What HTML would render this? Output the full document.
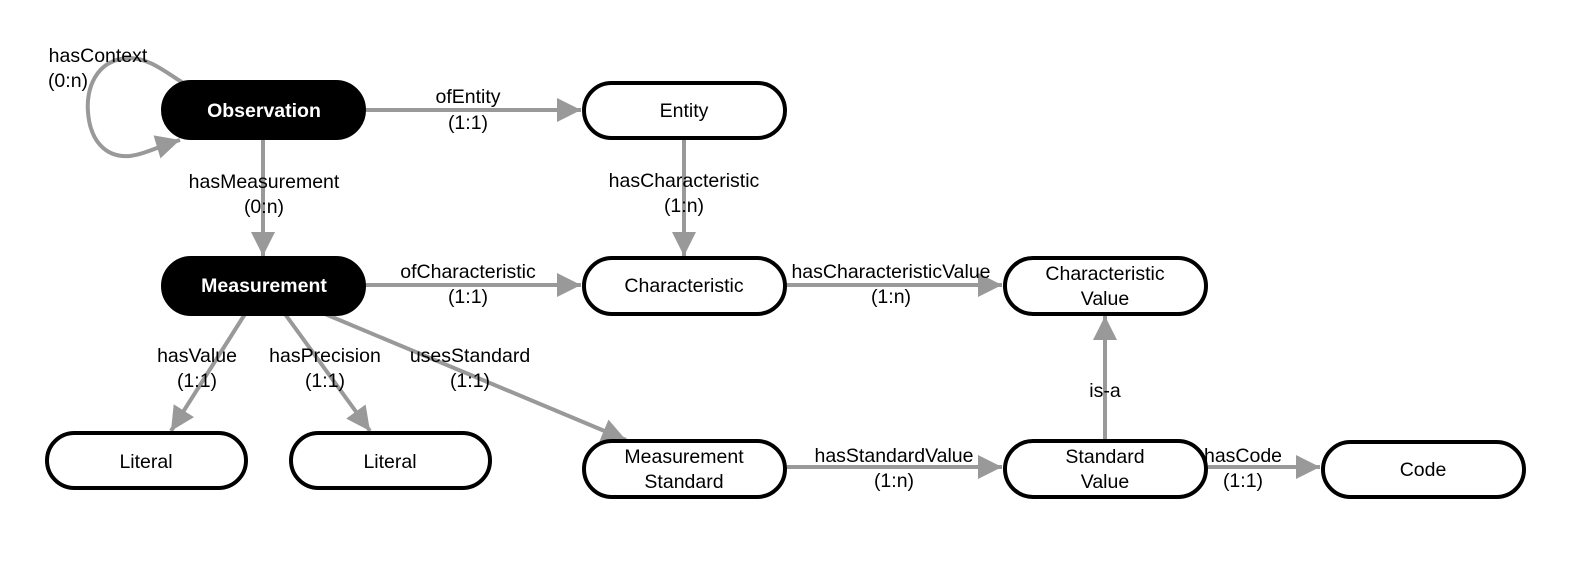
<!DOCTYPE html>
<html><head><meta charset="utf-8"><style>
html,body{margin:0;padding:0;background:#fff;}
svg text{font-family:"Liberation Sans",Arial,sans-serif;font-size:19.5px;text-anchor:middle;}
</style></head><body>
<svg width="1588" height="563" viewBox="0 0 1588 563" xmlns="http://www.w3.org/2000/svg">
<defs>
<marker id="a" viewBox="0 0 10 10" refX="10" refY="5" markerWidth="7" markerHeight="6" markerUnits="strokeWidth" orient="auto">
<path d="M0,0 L10,5 L0,10 z" fill="#999"/></marker>
</defs>
<g stroke="#999" stroke-width="4" fill="none" marker-end="url(#a)">
<path d="M185,84 C165,72 150,58 128,58 C95,60 86,90 88,112 C90,140 105,158 130,156 C145,154 160,146 180,140"/>
<line x1="366" y1="110" x2="581" y2="110"/>
<line x1="263" y1="138" x2="263" y2="256"/>
<line x1="684" y1="138" x2="684" y2="256"/>
<line x1="366" y1="285" x2="581" y2="285"/>
<line x1="787" y1="285" x2="1002" y2="285"/>
<line x1="245" y1="314" x2="171" y2="431"/>
<line x1="285" y1="314" x2="370" y2="431"/>
<line x1="325" y1="314" x2="626" y2="440"/>
<line x1="787" y1="467" x2="1002" y2="467"/>
<line x1="1105" y1="441" x2="1105" y2="316"/>
<line x1="1208" y1="467" x2="1320" y2="467"/>
</g>
<g stroke="#000" stroke-width="4">
<rect x="163" y="82" width="201" height="56" rx="28" fill="#000"/>
<rect x="163" y="258" width="201" height="56" rx="28" fill="#000"/>
<g fill="#fff">
<rect x="584" y="83" width="201" height="55" rx="27.5"/>
<rect x="584" y="258" width="201" height="56" rx="28"/>
<rect x="1005" y="258" width="201" height="56" rx="28"/>
<rect x="47" y="433" width="199" height="55" rx="27.5"/>
<rect x="291" y="433" width="199" height="55" rx="27.5"/>
<rect x="584" y="441" width="201" height="56" rx="28"/>
<rect x="1005" y="441" width="201" height="56" rx="28"/>
<rect x="1323" y="442" width="201" height="55" rx="27.5"/>
</g></g>
<g fill="#fff" font-weight="bold">
<text x="264" y="117">Observation</text>
<text x="264" y="292">Measurement</text>
</g>
<g fill="#000">
<text x="684" y="117">Entity</text>
<text x="684" y="292">Characteristic</text>
<text x="1105" y="280">Characteristic</text>
<text x="1105" y="305">Value</text>
<text x="146" y="468">Literal</text>
<text x="390" y="468">Literal</text>
<text x="684" y="463">Measurement</text>
<text x="684" y="488">Standard</text>
<text x="1105" y="463">Standard</text>
<text x="1105" y="488">Value</text>
<text x="1423" y="476">Code</text>
<text x="98" y="62">hasContext</text>
<text x="68" y="87">(0:n)</text>
<text x="468" y="103">ofEntity</text>
<text x="468" y="129">(1:1)</text>
<text x="264" y="188">hasMeasurement</text>
<text x="264" y="213">(0:n)</text>
<text x="684" y="187">hasCharacteristic</text>
<text x="684" y="212">(1:n)</text>
<text x="468" y="278">ofCharacteristic</text>
<text x="468" y="303">(1:1)</text>
<text x="891" y="278">hasCharacteristicValue</text>
<text x="891" y="303">(1:n)</text>
<text x="197" y="362">hasValue</text>
<text x="197" y="387">(1:1)</text>
<text x="325" y="362">hasPrecision</text>
<text x="325" y="387">(1:1)</text>
<text x="470" y="362">usesStandard</text>
<text x="470" y="387">(1:1)</text>
<text x="894" y="462">hasStandardValue</text>
<text x="894" y="487">(1:n)</text>
<text x="1105" y="397">is-a</text>
<text x="1243" y="462">hasCode</text>
<text x="1243" y="487">(1:1)</text>
</g>
</svg>
</body></html>
